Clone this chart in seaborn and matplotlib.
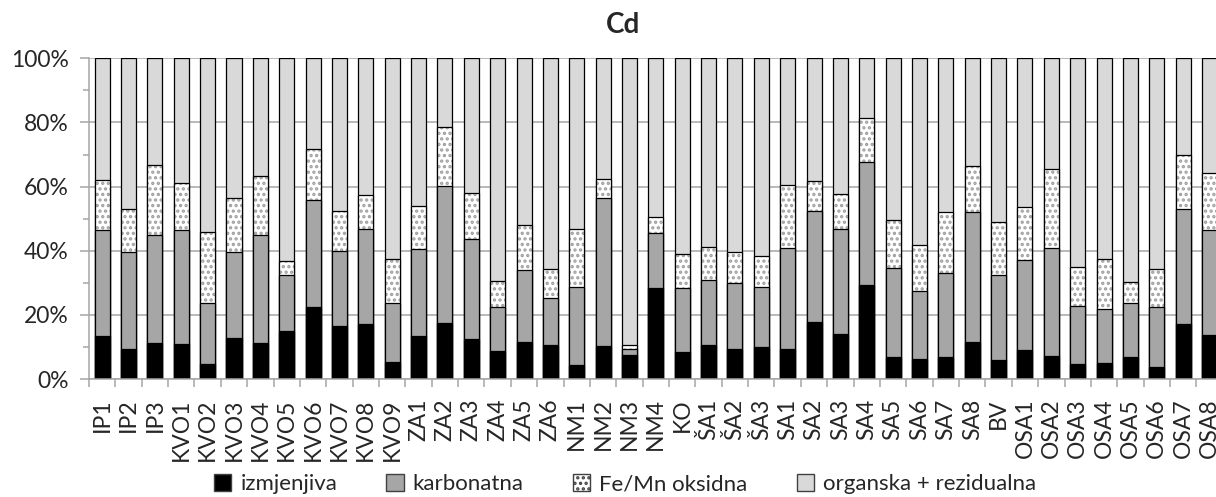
import numpy as np
import seaborn as sns
import matplotlib.pyplot as plt
from matplotlib.patches import Patch
from matplotlib.ticker import FixedLocator, FuncFormatter

# Udjeli frakcija Cd po lokacijama (%)
sites = ["IP1", "IP2", "IP3",
         "KVO1", "KVO2", "KVO3", "KVO4", "KVO5", "KVO6", "KVO7", "KVO8", "KVO9",
         "ZA1", "ZA2", "ZA3", "ZA4", "ZA5", "ZA6",
         "NM1", "NM2", "NM3", "NM4", "KO",
         "ŠA1", "ŠA2", "ŠA3",
         "SA1", "SA2", "SA3", "SA4", "SA5", "SA6", "SA7", "SA8", "BV",
         "OSA1", "OSA2", "OSA3", "OSA4", "OSA5", "OSA6", "OSA7", "OSA8"]

izmjenjiva = [13.4, 9.4, 11.2,
              10.9, 4.7, 12.8, 11.2, 15.0, 22.3, 16.5, 17.2, 5.4,
              13.5, 17.6, 12.4, 8.7, 11.5, 10.5,
              4.3, 10.2, 7.6, 28.3, 8.3,
              10.5, 9.4, 10.1,
              9.4, 17.9, 14.1, 29.3, 6.9, 6.1, 6.9, 11.5, 6.0,
              9.0, 7.2, 4.7, 5.0, 6.9, 3.8, 17.2, 13.8]
karbonatna = [33.1, 30.1, 33.8,
              35.6, 18.9, 26.7, 33.8, 17.4, 33.4, 23.4, 29.7, 18.2,
              27.0, 42.6, 31.2, 13.9, 22.5, 14.7,
              24.5, 46.2, 1.7, 17.1, 20.1,
              20.5, 20.4, 18.7,
              31.5, 34.4, 32.8, 38.3, 27.8, 21.2, 26.3, 40.6, 26.4,
              28.0, 33.8, 18.2, 16.7, 16.7, 18.8, 35.9, 32.7]
fe_mn = [15.5, 13.6, 21.8,
         14.7, 22.1, 16.9, 18.2, 4.3, 16.0, 12.5, 10.4, 13.7,
         13.5, 18.4, 14.4, 7.9, 14.0, 9.1,
         18.1, 6.1, 1.3, 5.2, 10.7,
         10.3, 9.7, 9.6,
         19.6, 9.3, 10.7, 13.9, 14.8, 14.4, 18.9, 14.3, 16.7,
         16.5, 24.4, 12.1, 15.6, 6.8, 11.7, 16.7, 17.7]
organska = [38.0, 46.9, 33.2,
            38.8, 54.3, 43.6, 36.8, 63.3, 28.3, 47.6, 42.7, 62.7,
            46.0, 21.4, 42.0, 69.5, 52.0, 65.7,
            53.1, 37.5, 89.4, 49.4, 60.9,
            58.7, 60.5, 61.6,
            39.5, 38.4, 42.4, 18.5, 50.5, 58.3, 47.9, 33.6, 50.9,
            46.5, 34.6, 65.0, 62.7, 69.6, 65.7, 30.2, 35.8]

fractions = ["izmjenjiva", "karbonatna", "Fe/Mn oksidna", "organska + rezidualna"]

# kumulativni vrhovi slojeva
stack = np.cumsum([izmjenjiva, karbonatna, fe_mn, organska], axis=0)

sns.set_style("white")
plt.rcParams["font.family"] = ["Lato", "DejaVu Sans"]
plt.rcParams["hatch.linewidth"] = 1.6

fig = plt.figure(figsize=(12.16, 4.97), dpi=100)
ax = fig.add_axes([89 / 1216, 1 - 379 / 497, (1222.7 - 89) / 1216, (379 - 58.3) / 497])

w = 0.57
edge = "#000000"
common = dict(x=sites, order=sites, width=w, saturation=1, errorbar=None, ax=ax)

sns.barplot(y=stack[3], color="#d9d9d9", edgecolor=edge, linewidth=0.9, **common)
sns.barplot(y=stack[2], color="#ffffff", edgecolor="#a0a0a0", linewidth=0, hatch="...", **common)
sns.barplot(y=stack[2], color=edge, fill=False, linewidth=0.9, **common)
sns.barplot(y=stack[1], color="#a6a6a6", edgecolor=edge, linewidth=0.9, **common)
sns.barplot(y=stack[0], color="#000000", edgecolor=edge, linewidth=0.9, **common)

ax.set_xlim(-0.5, len(sites) - 0.5)
ax.set_ylim(0, 100)
ax.set_xlabel("")
ax.set_ylabel("")

ax.yaxis.set_major_locator(FixedLocator([0, 20, 40, 60, 80, 100]))
ax.yaxis.set_minor_locator(FixedLocator([10, 30, 50, 70, 90]))
ax.yaxis.set_major_formatter(FuncFormatter(lambda v, p: f"{v:.0f}%"))
ax.grid(axis="y", which="major", color="#a6a6a6", linewidth=1.1)
ax.set_axisbelow(True)

ax.xaxis.set_minor_locator(FixedLocator(np.arange(-0.5, len(sites), 1.0)))
ax.tick_params(axis="x", which="major", length=0, pad=14, labelsize=16.5, rotation=90)
ax.tick_params(axis="x", which="minor", length=6, width=1.1, color="#a6a6a6", bottom=True)
ax.tick_params(axis="y", which="major", length=6.5, width=1.1, color="#a6a6a6", pad=8,
               labelsize=16.5, left=True)
ax.tick_params(axis="y", which="minor", length=4.5, width=1.1, color="#a6a6a6", left=True)

sns.despine(ax=ax, top=True, right=True)
for s in ["left", "bottom"]:
    ax.spines[s].set_color("#a6a6a6")
    ax.spines[s].set_linewidth(1.1)

fig.text(623 / 1216, 1 - 25 / 497, "Cd", ha="center", va="center",
         fontsize=20, fontweight="bold")

handles = [Patch(facecolor="#000000", edgecolor="#404040"),
           Patch(facecolor="#a6a6a6", edgecolor="#404040"),
           Patch(facecolor="#ffffff", edgecolor="#404040", hatch="..."),
           Patch(facecolor="#d9d9d9", edgecolor="#404040")]
fig.legend(handles, fractions, loc="center", bbox_to_anchor=(625 / 1216, 1 - 484 / 497),
           ncol=4, frameon=False, fontsize=16, handlelength=0.8, handleheight=0.8,
           handletextpad=0.4, columnspacing=2.2, borderpad=0)

fig.savefig("out.png", dpi=100)
